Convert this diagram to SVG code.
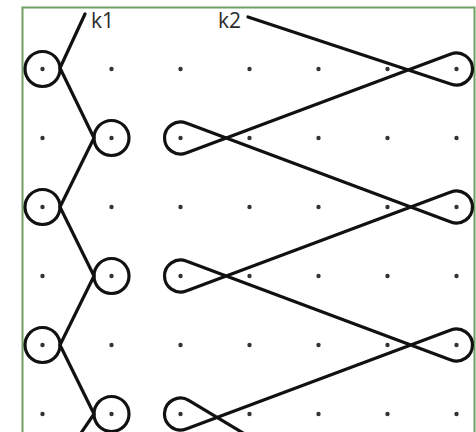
<svg xmlns="http://www.w3.org/2000/svg" width="476" height="432" viewBox="0 0 476 432">
  <style>
    .dot { fill: #333; }
    .knot { fill: none; stroke: #111; stroke-width: 3.2; stroke-linejoin: round; stroke-linecap: round; }
    .lbl { font-family: "Open Sans", "Liberation Sans", sans-serif; font-size: 21px; fill: #2a2a2a; }
  </style>
  <defs>
    <circle id="d" r="2.2" class="dot"/>
  </defs>
  <rect width="476" height="432" fill="#ffffff"/>
  <rect id="frame" x="22.5" y="7.5" width="452" height="440" fill="none" stroke="#6f9f63" stroke-width="2"/>
  <g id="grid">
    <g id="row1">
      <use href="#d" x="42.5" y="69"/><use href="#d" x="111.5" y="69"/><use href="#d" x="180.5" y="69"/><use href="#d" x="249.5" y="69"/><use href="#d" x="318.5" y="69"/><use href="#d" x="387.5" y="69"/><use href="#d" x="456.5" y="69"/>
    </g>
    <g id="row2">
      <use href="#d" x="42.5" y="138"/><use href="#d" x="111.5" y="138"/><use href="#d" x="180.5" y="138"/><use href="#d" x="249.5" y="138"/><use href="#d" x="318.5" y="138"/><use href="#d" x="387.5" y="138"/><use href="#d" x="456.5" y="138"/>
    </g>
    <g id="row3">
      <use href="#d" x="42.5" y="207"/><use href="#d" x="111.5" y="207"/><use href="#d" x="180.5" y="207"/><use href="#d" x="249.5" y="207"/><use href="#d" x="318.5" y="207"/><use href="#d" x="387.5" y="207"/><use href="#d" x="456.5" y="207"/>
    </g>
    <g id="row4">
      <use href="#d" x="42.5" y="276"/><use href="#d" x="111.5" y="276"/><use href="#d" x="180.5" y="276"/><use href="#d" x="249.5" y="276"/><use href="#d" x="318.5" y="276"/><use href="#d" x="387.5" y="276"/><use href="#d" x="456.5" y="276"/>
    </g>
    <g id="row5">
      <use href="#d" x="42.5" y="345"/><use href="#d" x="111.5" y="345"/><use href="#d" x="180.5" y="345"/><use href="#d" x="249.5" y="345"/><use href="#d" x="318.5" y="345"/><use href="#d" x="387.5" y="345"/><use href="#d" x="456.5" y="345"/>
    </g>
    <g id="row6">
      <use href="#d" x="42.5" y="414"/><use href="#d" x="111.5" y="414"/><use href="#d" x="180.5" y="414"/><use href="#d" x="249.5" y="414"/><use href="#d" x="318.5" y="414"/><use href="#d" x="387.5" y="414"/><use href="#d" x="456.5" y="414"/>
    </g>
  </g>
  <g id="k1">
    <circle class="knot" cx="42.5" cy="69" r="17.5"/>
    <circle class="knot" cx="111.5" cy="138" r="17.5"/>
    <circle class="knot" cx="42.5" cy="207" r="17.5"/>
    <circle class="knot" cx="111.5" cy="276" r="17.5"/>
    <circle class="knot" cx="42.5" cy="345" r="17.5"/>
    <circle class="knot" cx="111.5" cy="414" r="17.5"/>
    <polyline class="knot" points="85,14 60,68 94,138 60,207 94,276 60,345 94,414 79,436"/>
  </g>
  <g id="k2">
    <path class="knot" d="M248,17 L451.5,84.18 A16,16 0 1 0 450.89,54 L186.11,153 A16,16 0 1 1 186.11,123 L450.89,222 A16,16 0 1 0 450.89,192 L186.11,291 A16,16 0 1 1 186.11,261 L450.89,360 A16,16 0 1 0 450.89,330 L186.11,429 A16,16 0 1 1 188.74,400.29 L258,442"/>
  </g>
  <g id="labels">
    <text class="lbl" x="91" y="28">k1</text>
    <text class="lbl" x="218" y="28">k2</text>
  </g>
</svg>
